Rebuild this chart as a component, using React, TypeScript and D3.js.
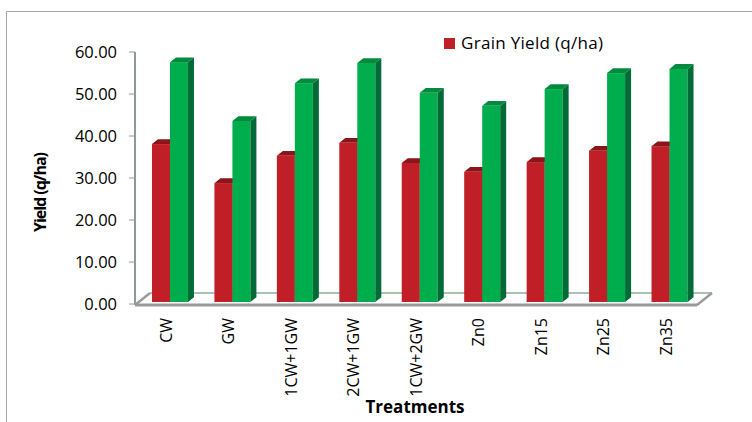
import React, { useRef, useEffect } from 'react'
import * as d3 from 'd3'

const treatments = ['CW', 'GW', '1CW+1GW', '2CW+1GW', '1CW+2GW', 'Zn0', 'Zn15', 'Zn25', 'Zn35']
const grainYield = [37.6, 28.3, 34.8, 37.9, 33.1, 31.0, 33.3, 36.0, 37.1]
const strawYield = [57.1, 43.1, 52.1, 56.9, 49.8, 46.7, 50.7, 54.5, 55.5]
const yTicks = [0, 10, 20, 30, 40, 50, 60]
const legendLabel = 'Grain Yield (q/ha)'

const font = "'Open Sans', 'Liberation Sans', sans-serif"

const App = () => {
	const svgRef = useRef<SVGSVGElement>(null)

	useEffect(() => {
		const svg = d3.select(svgRef.current)
		svg.selectAll('*').remove()

		const left = 135,
			right = 697,
			floorY = 305
		// full depth of the 3d floor
		const depthX = 15,
			depthY = -12

		const x = d3.scaleBand().domain(treatments).range([left, right])
		const y = d3.scaleLinear().domain([0, 60]).range([304, 52])

		// chart frame (only top and left visible)
		svg.append('path')
			.attr('d', 'M6.5,422 L6.5,11.5 L752,11.5')
			.attr('fill', 'none')
			.attr('stroke', '#a6a6a6')
			.attr('stroke-width', 1)

		// floor
		svg.append('path')
			.attr(
				'd',
				`M${left},${floorY} L${right},${floorY} L${right + depthX},${floorY + depthY} L${left + depthX},${floorY + depthY} Z`
			)
			.attr('fill', '#fff')
			.attr('stroke', 'none')
		svg.append('path')
			.attr('d', `M${left + depthX},${floorY + depthY} L${right + depthX},${floorY + depthY}`)
			.attr('stroke', '#a9c2b4')
			.attr('stroke-width', 2)
		svg.append('path')
			.attr('d', `M${left},${floorY} L${left + depthX},${floorY + depthY}`)
			.attr('stroke', '#9a9a9a')
			.attr('stroke-width', 2.5)
		svg.append('path')
			.attr('d', `M${right},${floorY} L${right + depthX},${floorY + depthY}`)
			.attr('stroke', '#9a9a9a')
			.attr('stroke-width', 2.5)

		// y axis
		svg.append('line')
			.attr('x1', left)
			.attr('x2', left)
			.attr('y1', y(60))
			.attr('y2', floorY)
			.attr('stroke', '#8f9a94')
			.attr('stroke-width', 2)
		const ticks = svg.append('g')
		ticks.selectAll('line')
			.data(yTicks)
			.join('line')
			.attr('x1', left - 6)
			.attr('x2', left)
			.attr('y1', (d) => y(d))
			.attr('y2', (d) => y(d))
			.attr('stroke', '#8f9a94')
			.attr('stroke-width', 1)
		ticks.selectAll('text')
			.data(yTicks)
			.join('text')
			.attr('x', 117)
			.attr('y', (d) => y(d))
			.attr('dy', '0.36em')
			.attr('text-anchor', 'end')
			.style('font-family', font)
			.style('font-size', '16.5px')
			.style('fill', '#000')
			.text((d) => d.toFixed(2))

		// bars
		const f0 = 0.25 // front face depth
		const f1 = 0.65 // back face depth
		const barW = 18
		const bx = (f: number) => f * depthX
		const by = (f: number) => f * depthY

		const drawBar = (g: any, x0: number, v: number, front: string, side: string, top: string) => {
			const xl = x0 + bx(f0)
			const xr = xl + barW
			const yb = floorY + by(f0)
			const yt = y(v) + by(f0) + 1
			const dx = bx(f1) - bx(f0)
			const dy = by(f1) - by(f0)
			g.append('rect')
				.attr('x', xl)
				.attr('y', yt)
				.attr('width', barW)
				.attr('height', yb - yt)
				.attr('fill', front)
			g.append('path')
				.attr('d', `M${xr},${yt} L${xr + dx},${yt + dy} L${xr + dx},${yb + dy} L${xr},${yb} Z`)
				.attr('fill', side)
			g.append('path')
				.attr('d', `M${xl},${yt} L${xr},${yt} L${xr + dx},${yt + dy} L${xl + dx},${yt + dy} Z`)
				.attr('fill', top)
		}

		const bars = svg.append('g')
		treatments.forEach((t, i) => {
			const c = (x(t) as number) + x.bandwidth() / 2
			const g = bars.append('g')
			drawBar(g, c - barW, grainYield[i], '#c01f27', '#8b1518', '#8b1518')
			drawBar(g, c, strawYield[i], '#00ad4c', '#006b36', '#008a3e')
		})

		// front floor edge
		svg.append('path')
			.attr('d', `M${left},${floorY} L${right},${floorY}`)
			.attr('stroke', '#9a9a9a')
			.attr('stroke-width', 3)

		// x labels
		svg.append('g')
			.selectAll('text')
			.data(treatments)
			.join('text')
			.attr('transform', (d) => `translate(${(x(d) as number) + x.bandwidth() / 2},318) rotate(-90)`)
			.attr('text-anchor', 'end')
			.attr('dy', '0.36em')
			.style('font-family', font)
			.style('font-size', '16px')
			.style('fill', '#000')
			.text((d) => d)

		// axis titles
		svg.append('text')
			.attr('transform', 'translate(40,192) rotate(-90)')
			.attr('text-anchor', 'middle')
			.attr('dy', '0.36em')
			.attr('textLength', 80)
			.style('font-family', font)
			.style('font-size', '16px')
			.style('font-weight', 'bold')
			.text('Yield (q/ha)')
		svg.append('text')
			.attr('x', 415)
			.attr('y', 413)
			.attr('text-anchor', 'middle')
			.style('font-family', font)
			.style('font-size', '17px')
			.style('font-weight', 'bold')
			.text('Treatments')

		// legend
		svg.append('rect')
			.attr('x', 444)
			.attr('y', 38)
			.attr('width', 11)
			.attr('height', 11)
			.attr('fill', '#c01f27')
		svg.append('text')
			.attr('x', 461)
			.attr('y', 49)
			.attr('textLength', 142)
			.style('font-family', font)
			.style('font-size', '17px')
			.text(legendLabel)
	}, [])

	return (
		<svg
			ref={svgRef}
			width={752}
			height={422}
			style={{ position: 'absolute', left: 0, top: 0, background: '#fff' }}
		></svg>
	)
}

export default App
